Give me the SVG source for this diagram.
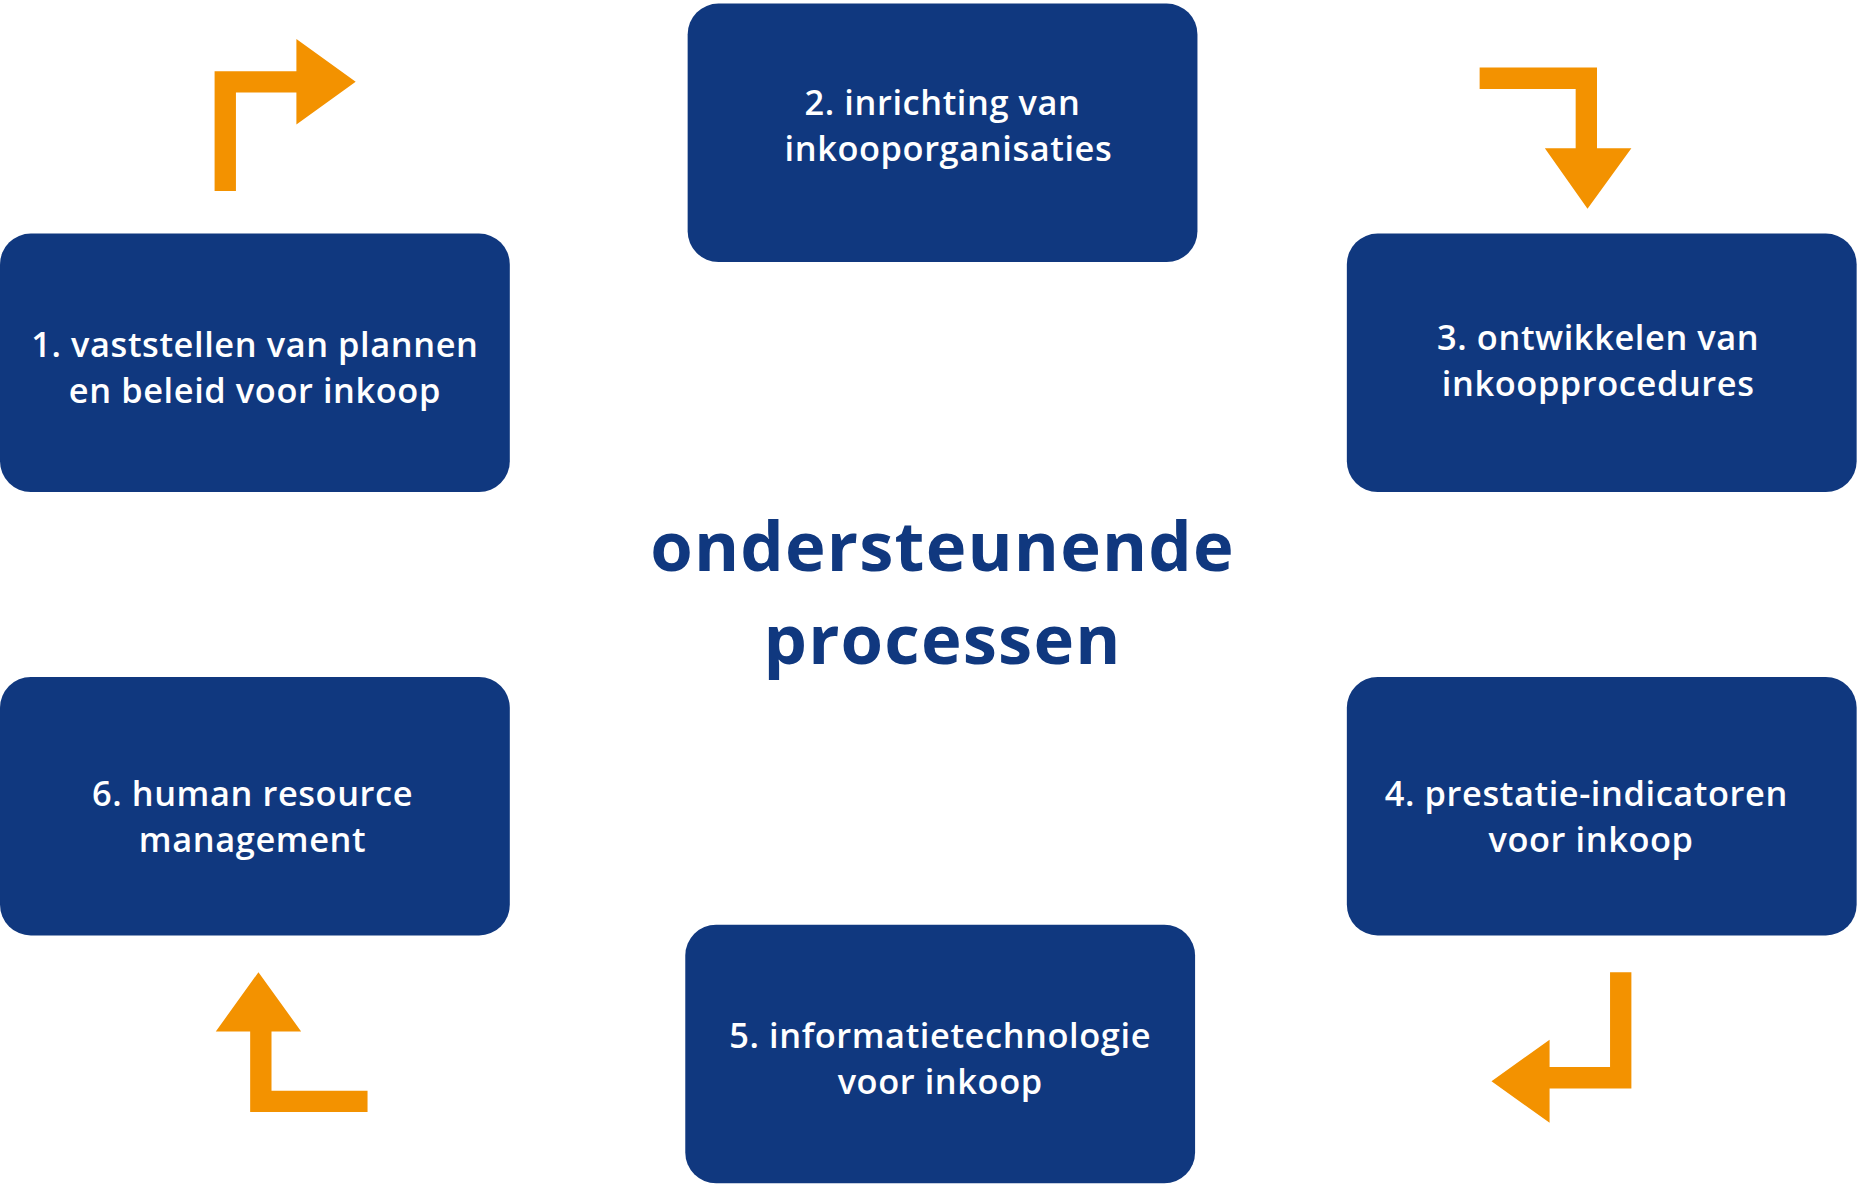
<svg xmlns="http://www.w3.org/2000/svg" width="1859" height="1185" viewBox="0 0 1859 1185">
<style>
.box{fill:#10387F}
.t{fill:#fff;font-family:"Open Sans","Liberation Sans",sans-serif;font-weight:600;font-size:29px;text-anchor:middle;letter-spacing:0.5px}
.c{fill:#10387F;font-family:"Open Sans","Liberation Sans",sans-serif;font-weight:700;font-size:58px;text-anchor:middle;letter-spacing:1px}
.a{fill:#F39200}
</style>
<rect width="1859" height="1185" fill="#fff"/>
<g transform="scale(1.1856)">
<g id="n1"><rect class="box" x="0" y="197" width="430" height="218" rx="26"/><text class="t" x="215" y="301">1. vaststellen van plannen</text><text class="t" x="215" y="340">en beleid voor inkoop</text></g>
<g id="n2"><rect class="box" x="580" y="3" width="430" height="218" rx="26"/><text class="t" x="795" y="97">2. inrichting van</text><text class="t" x="800" y="136">inkooporganisaties</text></g>
<g id="n3"><rect class="box" x="1136" y="197" width="430" height="218" rx="26"/><text class="t" x="1348" y="295">3. ontwikkelen van</text><text class="t" x="1348" y="334">inkoopprocedures</text></g>
<g id="n4"><rect class="box" x="1136" y="571" width="430" height="218" rx="26"/><text class="t" x="1338" y="680">4. prestatie-indicatoren</text><text class="t" x="1342" y="719">voor inkoop</text></g>
<g id="n5"><rect class="box" x="578" y="780" width="430" height="218" rx="26"/><text class="t" x="793" y="884">5. informatietechnologie</text><text class="t" x="793" y="923">voor inkoop</text></g>
<g id="n6"><rect class="box" x="0" y="571" width="430" height="218" rx="26"/><text class="t" x="213" y="680">6. human resource</text><text class="t" x="213" y="719">management</text></g>
<g id="center"><text class="c" x="795" y="482">ondersteunende</text><text class="c" x="795" y="560">processen</text></g>
<g id="connectors">
<polygon class="a" points="181,161 199,161 199,78 250,78 250,105 300,69 250,33 250,60 181,60"/>
<polygon class="a" points="1248,57 1347,57 1347,125 1376,125 1339,176 1303,125 1329,125 1329,75 1248,75"/>
<polygon class="a" points="1376,820 1376,918 1307,918 1307,947 1258,912 1307,877 1307,900 1358,900 1358,820"/>
<polygon class="a" points="310,938 211,938 211,870 182,870 218,820 254,870 229,870 229,920 310,920"/>
</g>
</g>
</svg>
